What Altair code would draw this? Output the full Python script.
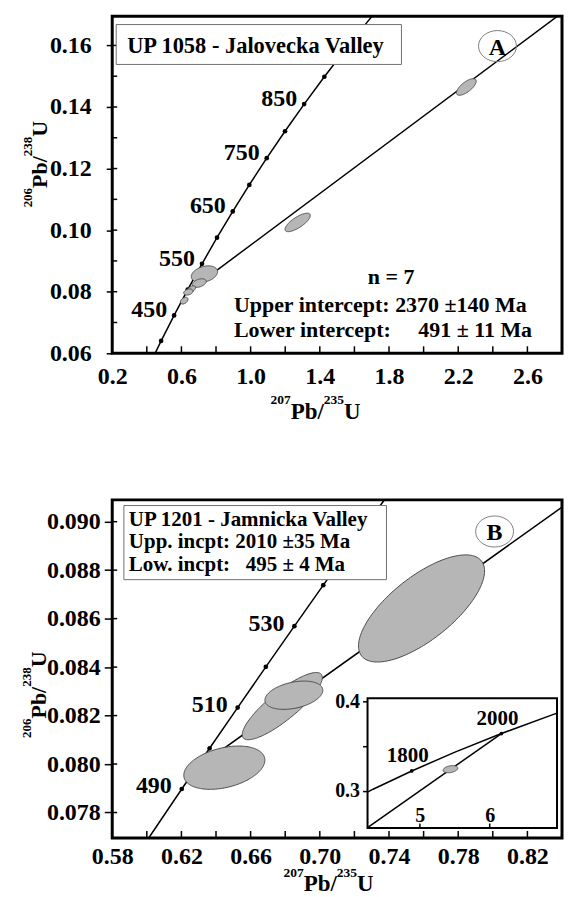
import altair as alt
import numpy as np
import pandas as pd

FONT = "Liberation Serif"

# ---------------- Panel A : UP 1058 ----------------
A_conc_age = [350, 400, 450, 500, 550, 600, 650, 700, 750, 800, 850, 900, 950, 1000, 1050]
A_conc_x = [0.4116, 0.4828, 0.5577, 0.6363, 0.7189, 0.8056, 0.8968, 0.9925, 1.0931,
            1.1987, 1.3097, 1.4263, 1.5488, 1.6774, 1.8125]
A_conc_y = [0.05579, 0.06402, 0.07230, 0.08065, 0.08906, 0.09754, 0.10609, 0.11470,
            0.12338, 0.13213, 0.14094, 0.14983, 0.15878, 0.16781, 0.17689]
A_dot_ages = [400, 450, 500, 550, 600, 650, 700, 750, 800, 850, 900]
A_label_ages = [450, 550, 650, 750, 850]
A_disc_x = [0.62, 2.80]
A_disc_y = [0.0792, 0.1706]
A_ell_cx = [2.247, 1.272, 0.733, 0.703, 0.657, 0.640, 0.616]
A_ell_cy = [0.1465, 0.1025, 0.0857, 0.0828, 0.0808, 0.0799, 0.0771]
A_ell_sx = [0.057, 0.073, 0.076, 0.040, 0.025, 0.027, 0.022]
A_ell_sy = [0.0027, 0.0030, 0.0027, 0.0014, 0.0011, 0.0010, 0.0011]
A_ell_rho = [0.70, 0.75, 0.30, 0.40, 0.50, 0.30, 0.40]
A_dom_x = [0.2, 2.8]
A_dom_y = [0.06, 0.1695]
A_x_labels = [0.2, 0.6, 1.0, 1.4, 1.8, 2.2, 2.6]
A_x_ticks_in = [0.4, 0.6, 0.8, 1.0, 1.2, 1.4, 1.6, 1.8, 2.0, 2.2, 2.4, 2.6]
A_y_labels = [0.06, 0.08, 0.10, 0.12, 0.14, 0.16]
A_y_ticks_in = [0.07, 0.08, 0.09, 0.10, 0.11, 0.12, 0.13, 0.14, 0.15, 0.16]
A_title = "UP 1058 - Jalovecka Valley"
A_stats = ["n = 7", "Upper intercept: 2370 \u00b1140 Ma",
           "Lower intercept:\u2007\u2007 491 \u00b1 11 Ma"]

# ---------------- Panel B : UP 1201 ----------------
B_conc_age = [470, 480, 490, 500, 510, 520, 530, 540, 550, 560, 570]
B_conc_x = [0.5886, 0.6044, 0.6202, 0.6363, 0.6525, 0.6688, 0.6853, 0.7020, 0.7189, 0.7359, 0.7531]
B_conc_y = [0.07563, 0.07730, 0.07897, 0.08065, 0.08233, 0.08401, 0.08569, 0.08738,
            0.08906, 0.09076, 0.09245]
B_dot_ages = [490, 500, 510, 520, 530, 540, 550]
B_label_ages = [490, 510, 530]
B_disc_x = [0.628, 0.84]
B_disc_y = [0.0798, 0.0906]
B_ell_cx = [0.6448, 0.6783, 0.6850, 0.7588]
B_ell_cy = [0.07985, 0.08239, 0.08284, 0.08642]
B_ell_sx = [0.02343, 0.02315, 0.01674, 0.03643]
B_ell_sy = [0.000893, 0.001387, 0.000584, 0.00221]
B_ell_rho = [0.35, 0.85, 0.35, 0.70]
B_dom_x = [0.58, 0.84]
B_dom_y = [0.07695, 0.0909]
B_x_labels = [0.58, 0.62, 0.66, 0.70, 0.74, 0.78, 0.82]
B_x_ticks_in = [0.60, 0.62, 0.64, 0.66, 0.68, 0.70, 0.72, 0.74, 0.76, 0.78, 0.80, 0.82]
B_y_labels = [0.078, 0.080, 0.082, 0.084, 0.086, 0.088, 0.090]
B_title = ["UP 1201 - Jamnicka Valley", "Upp. incpt: 2010 \u00b135 Ma",
           "Low. incpt:\u2007 495 \u00b1 4 Ma"]

# ---------------- Inset of panel B ----------------
I_conc_x = [4.256, 4.335, 4.887, 5.496, 6.168, 6.911, 6.962]
I_conc_y = [0.2985, 0.3018, 0.3221, 0.3428, 0.3638, 0.3851, 0.3864]
I_dot_age = ["1800", "2000"]
I_dot_x = [4.887, 6.168]
I_dot_y = [0.3221, 0.3638]
I_disc_x = [4.256, 6.168]
I_disc_y = [0.2590, 0.3638]
I_ell_cx = [5.44]
I_ell_cy = [0.3241]
I_ell_sx = [0.105]
I_ell_sy = [0.0040]
I_ell_rho = [0.30]
I_dom_x = [4.256, 6.962]
I_dom_y = [0.2586, 0.403]
I_x_labels = [5, 6]
I_y_ticks = [0.3, 0.35, 0.4]

# axis titles: (text, superscript?)
TITLE_X = [("207", True), ("Pb/", False), ("235", True), ("U", False)]
TITLE_Y = [("206", True), ("Pb/", False), ("238", True), ("U", False)]

ELL_FILL = "#b6b6b6"
ELL_STROKE = "#4a4a4a"
EM = {"P": 0.611, "b": 0.556, "/": 0.278, "U": 0.722}


def text_width(s, size):
    return sum(EM.get(ch, 0.5) for ch in s) * size


def ellipse_df(cx, cy, sx, sy, rho, n=90):
    rows = []
    for i in range(len(cx)):
        s = float(np.sqrt(1 - rho[i] ** 2))
        for k in range(n + 1):
            t = np.pi * k / n
            c, sn = float(np.cos(t)), float(np.sin(t))
            rows.append({"id": i, "x": cx[i] + sx[i] * c,
                         "y": cy[i] + sy[i] * (rho[i] * c + s * sn),
                         "y2": cy[i] + sy[i] * (rho[i] * c - s * sn)})
    return pd.DataFrame(rows)


def conc_df(ages, xs, ys):
    return pd.DataFrame({"age": ages, "x": xs, "y": ys})


def text_at(text, x, y, size=22, align="left", angle=0):
    return alt.Chart(pd.DataFrame({"t": [text]})).mark_text(
        font=FONT, fontWeight="bold", fontSize=size, align=align,
        baseline="alphabetic", color="black", angle=angle
    ).encode(x=alt.value(x), y=alt.value(y), text="t:N")


def title_h(pieces, x0, y_main, y_sup, main=23, sup=13.5):
    out, x = [], x0
    for s, is_sup in pieces:
        size = sup if is_sup else main
        out.append(text_at(s, x, y_sup if is_sup else y_main, size=size))
        x += text_width(s, size)
    return out


def title_v(pieces, y0, x_main, x_sup, main=22, sup=13):
    out, y = [], y0
    for s, is_sup in pieces:
        size = sup if is_sup else main
        out.append(text_at(s, x_sup if is_sup else x_main, y, size=size, angle=270))
        y -= text_width(s, size)
    return out


def box_at(x1, x2, y1, y2):
    return alt.Chart(pd.DataFrame({"a": [0]})).mark_rect(
        fill="white", stroke="#707070", strokeWidth=1
    ).encode(x=alt.value(x1), x2=alt.value(x2), y=alt.value(y1), y2=alt.value(y2))


def anchor_at(x):
    # invisible guide that fixes the left edge of the drawing
    return alt.Chart(pd.DataFrame({"a": [0]})).mark_rule(strokeOpacity=0, strokeWidth=1).encode(
        x=alt.value(x), y=alt.value(100), y2=alt.value(110))


ELL_PATH = "M -1 0 A 1 0.82 0 1 1 1 0 A 1 0.82 0 1 1 -1 0 Z"


def ring_at(x, y):
    return alt.Chart(pd.DataFrame({"a": [0]})).mark_point(
        shape=ELL_PATH, size=1444, filled=False, stroke="#808080",
        strokeWidth=1, opacity=1
    ).encode(x=alt.value(x), y=alt.value(y))


def panel(conc, dot_ages, label_ages, disc_x, disc_y, ell, X, Y, Yarea,
          x_ticks_in, y_ticks_in, H, ldx, ldy):
    cdf = conc
    lines = alt.Chart(cdf).mark_line(color="black", strokeWidth=1.5, clip=True).encode(x=X, y=Y)
    disc = alt.Chart(pd.DataFrame({"x": disc_x, "y": disc_y})).mark_line(
        color="black", strokeWidth=1.5, clip=True).encode(x=X, y=Y)
    dots = alt.Chart(cdf[cdf["age"].isin(dot_ages)]).mark_circle(
        size=22, color="black", opacity=1).encode(x=X, y=Y)
    ells = alt.Chart(ell).mark_area(fill=ELL_FILL, stroke=ELL_STROKE, strokeWidth=1,
                                    opacity=1).encode(x=X, y=Yarea, y2="y2:Q", detail="id:N")
    ldf = cdf[cdf["age"].isin(label_ages)].copy()
    ldf["lab"] = ldf["age"].astype(str)
    labs = alt.Chart(ldf).mark_text(
        font=FONT, fontWeight="bold", fontSize=24, align="right", baseline="alphabetic",
        dx=ldx, dy=ldy, color="black").encode(x=X, y=Y, text="lab:N")
    xt = alt.Chart(pd.DataFrame({"x": x_ticks_in})).mark_rule(
        color="black", strokeWidth=1.5).encode(x=X, y=alt.value(H), y2=alt.value(H - 7))
    yt = alt.Chart(pd.DataFrame({"y": y_ticks_in})).mark_rule(
        color="black", strokeWidth=1.5).encode(y=Y, x=alt.value(0), x2=alt.value(5))
    return [lines, disc, dots, ells, labs, xt, yt]


W = 451

# ---------- Panel A ----------
HA = 338
XA = alt.X("x:Q", scale=alt.Scale(domain=A_dom_x, nice=False, zero=False),
           axis=alt.Axis(values=A_x_labels, format=".1f", title=None, ticks=False, tickSize=0,
                         domain=False, grid=False, labelPadding=30, labelBaseline="alphabetic",
                         labelFlush=False, labelOverlap=False))
yaxA = dict(values=A_y_labels, format=".2f", title=None, tickSize=6, domain=False, grid=False,
            labelPadding=15, labelFlush=False, labelOverlap=False)
YA = alt.Y("y:Q", scale=alt.Scale(domain=A_dom_y, nice=False, zero=False), axis=alt.Axis(**yaxA))
YAa = alt.Y("y:Q", stack=None, scale=alt.Scale(domain=A_dom_y, nice=False, zero=False),
            axis=alt.Axis(**yaxA))

layersA = panel(conc_df(A_conc_age, A_conc_x, A_conc_y), A_dot_ages, A_label_ages,
                A_disc_x, A_disc_y,
                ellipse_df(A_ell_cx, A_ell_cy, A_ell_sx, A_ell_sy, A_ell_rho),
                XA, YA, YAa, A_x_ticks_in, A_y_ticks_in, HA, -7, 2)
layersA += [
    box_at(4, 290, 8.4, 48.4),
    text_at(A_title, 15, 36.7, size=22.5),
    ring_at(386.3, 30),
    text_at("A", 386.3, 38.5, size=24, align="center"),
    text_at(A_stats[0], 279.7, 268.4, align="center"),
    text_at(A_stats[1], 122, 296.7),
    text_at(A_stats[2], 122, 321.7),
    anchor_at(-98),
]
layersA += title_h(TITLE_X, 158.7, HA + 65.7, HA + 50.5)
layersA += title_v(TITLE_Y, 191.7, -65.3, -80)
chartA = alt.layer(*layersA).properties(width=W, height=HA)

# ---------- Panel B ----------
HB = 339
XB = alt.X("x:Q", scale=alt.Scale(domain=B_dom_x, nice=False, zero=False),
           axis=alt.Axis(values=B_x_labels, format=".2f", title=None, ticks=False, tickSize=0,
                         domain=False, grid=False, labelPadding=26, labelBaseline="alphabetic",
                         labelFlush=False, labelOverlap=False))
yaxB = dict(values=B_y_labels, format=".3f", title=None, tickSize=8, domain=False, grid=False,
            labelPadding=4, labelFlush=False, labelOverlap=False)
YB = alt.Y("y:Q", scale=alt.Scale(domain=B_dom_y, nice=False, zero=False), axis=alt.Axis(**yaxB))
YBa = alt.Y("y:Q", stack=None, scale=alt.Scale(domain=B_dom_y, nice=False, zero=False),
            axis=alt.Axis(**yaxB))

layersB = panel(conc_df(B_conc_age, B_conc_x, B_conc_y), B_dot_ages, B_label_ages,
                B_disc_x, B_disc_y,
                ellipse_df(B_ell_cx, B_ell_cy, B_ell_sx, B_ell_sy, B_ell_rho),
                XB, YB, YBa, B_x_ticks_in, B_y_labels, HB, -10, 4.5)
layersB += [
    box_at(11.7, 275, 5.7, 80),
    text_at(B_title[0], 16.7, 26.5, size=21),
    text_at(B_title[1], 16.7, 48.6, size=21),
    text_at(B_title[2], 16.7, 71, size=21),
    ring_at(383.4, 31.7),
    text_at("B", 383.4, 40, size=24, align="center"),
    anchor_at(-98),
]
layersB += title_h(TITLE_X, 171.7, HB + 53.5, HB + 39.5)
layersB += title_v(TITLE_Y, 238.7, -66.6, -81)
mainB = alt.layer(*layersB)

# ---------- Inset ----------
IX_RANGE = [256, 446]
IY_RANGE = [329, 199]
XI = alt.X("x:Q", scale=alt.Scale(domain=I_dom_x, range=IX_RANGE, nice=False, zero=False),
           axis=alt.Axis(orient="top", offset=-329, values=I_x_labels, format="d", tickSize=5,
                         domain=False, grid=False, labelPadding=2, labelBaseline="alphabetic",
                         labelFontSize=20, title=None, labelFlush=False, labelOverlap=False,
                         zindex=2))
iyax = dict(orient="left", offset=-256, values=I_y_ticks,
            labelExpr="datum.value == 0.35 ? '' : format(datum.value, '.1f')",
            tickSize=5, domain=False, grid=False, labelPadding=3, labelFontSize=20,
            title=None, labelFlush=False, labelOverlap=False, zindex=2)
YI = alt.Y("y:Q", scale=alt.Scale(domain=I_dom_y, range=IY_RANGE, nice=False, zero=False),
           axis=alt.Axis(**iyax))
YIa = alt.Y("y:Q", stack=None,
            scale=alt.Scale(domain=I_dom_y, range=IY_RANGE, nice=False, zero=False),
            axis=alt.Axis(**iyax))

inset_frame = alt.Chart(pd.DataFrame({"x": [I_dom_x[0]], "x2": [I_dom_x[1]],
                                      "y": [I_dom_y[0]], "y2": [I_dom_y[1]]})).mark_rect(
    fill="white", stroke="black", strokeWidth=2).encode(x=XI, x2="x2:Q", y=YI, y2="y2:Q")
inset_conc = alt.Chart(pd.DataFrame({"x": I_conc_x, "y": I_conc_y})).mark_line(
    color="black", strokeWidth=1.5).encode(x=XI, y=YI)
inset_disc = alt.Chart(pd.DataFrame({"x": I_disc_x, "y": I_disc_y})).mark_line(
    color="black", strokeWidth=1.5).encode(x=XI, y=YI)
idots = pd.DataFrame({"x": I_dot_x, "y": I_dot_y, "lab": I_dot_age})
inset_dots = alt.Chart(idots).mark_circle(size=14, color="black", opacity=1).encode(x=XI, y=YI)
inset_labs = alt.Chart(idots).mark_text(
    font=FONT, fontWeight="bold", fontSize=21, align="center", baseline="alphabetic",
    dx=-4, dy=-9, color="black").encode(x=XI, y=YI, text="lab:N")
inset_ell = alt.Chart(ellipse_df(I_ell_cx, I_ell_cy, I_ell_sx, I_ell_sy, I_ell_rho)).mark_area(
    fill=ELL_FILL, stroke=ELL_STROKE, strokeWidth=1, opacity=1).encode(
    x=XI, y=YIa, y2="y2:Q", detail="id:N")
inset = alt.layer(inset_frame, inset_conc, inset_disc, inset_dots, inset_ell, inset_labs)

chartB = alt.layer(mainB, inset).resolve_scale(x="independent", y="independent").properties(
    width=W, height=HB)

chart = alt.vconcat(chartA, chartB, spacing=147, bounds="flush").properties(
    padding={"left": 4.5, "top": 5, "right": 0, "bottom": 0}
).configure_view(stroke="black", strokeWidth=3).configure_axis(
    labelFont=FONT, titleFont=FONT, labelFontWeight="bold", titleFontWeight="bold",
    labelColor="black", titleColor="black", tickColor="black", tickWidth=1.5,
    labelFontSize=24, titleFontSize=24)

chart.save("out.html", embed_options={"renderer": "svg", "actions": False})
